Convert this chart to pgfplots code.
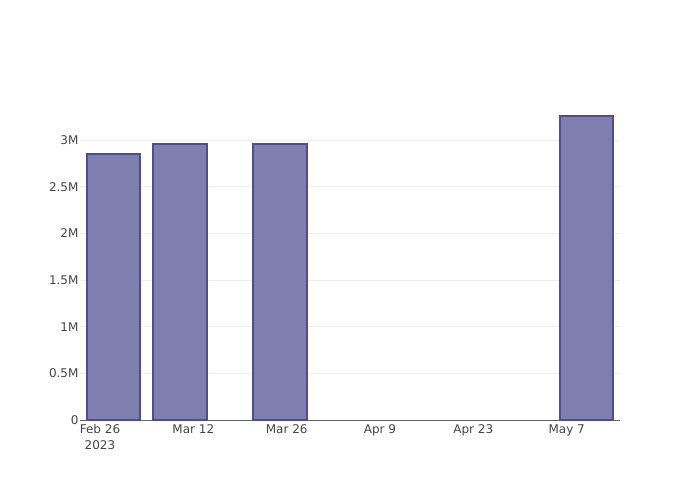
\documentclass[border=0pt]{standalone}
\usepackage{pgfplots}
\pgfplotsset{compat=1.18}
\usepackage{fontspec}
\setmainfont{DejaVu Sans}
\definecolor{barfill}{HTML}{7F7FAF}
\definecolor{baredge}{HTML}{4D4D90}
\definecolor{tickc}{HTML}{444444}
\definecolor{gridc}{HTML}{EEEEEE}
\begin{document}
\begin{tikzpicture}[x=1pt,y=1pt]
\begin{axis}[
  at={(0,0)}, anchor=south west,
  scale only axis, width=540pt, height=320pt,
  xmin=-3, xmax=78, ymin=0, ymax=3.43,
  axis x line*=bottom, axis y line*=left,
  x axis line style={color=gray!80!black, line width=0.8pt, -},
  y axis line style={draw=none},
  xtick={0,14,28,42,56,70},
  xticklabels={Feb 26\\2023, Mar 12, Mar 26, Apr 9, Apr 23, May 7},
  xticklabel style={align=center, font=\fontsize{12}{15.5}\selectfont, text=tickc, yshift=-1pt},
  xtick style={draw=none},
  ytick={0,0.5,1,1.5,2,2.5,3},
  yticklabels={0,0.5M,1M,1.5M,2M,2.5M,3M},
  ymajorgrids, grid style={gridc, line width=0.6pt},
  yticklabel style={font=\fontsize{12}{14}\selectfont, text=tickc, anchor=east, xshift=2pt},
  ytick style={draw=none},
  /pgf/number format/assume math mode=true,
  clip=false,
]
\addplot[ybar, bar width=53.3pt, fill=barfill, draw=baredge, line width=1.8pt]
  coordinates {(2,2.85) (12,2.96) (27,2.96) (73,3.255)};
\end{axis}
\pgfresetboundingbox
\path[use as bounding box] (-80,-80) rectangle (620,420);
\end{tikzpicture}
\end{document}
